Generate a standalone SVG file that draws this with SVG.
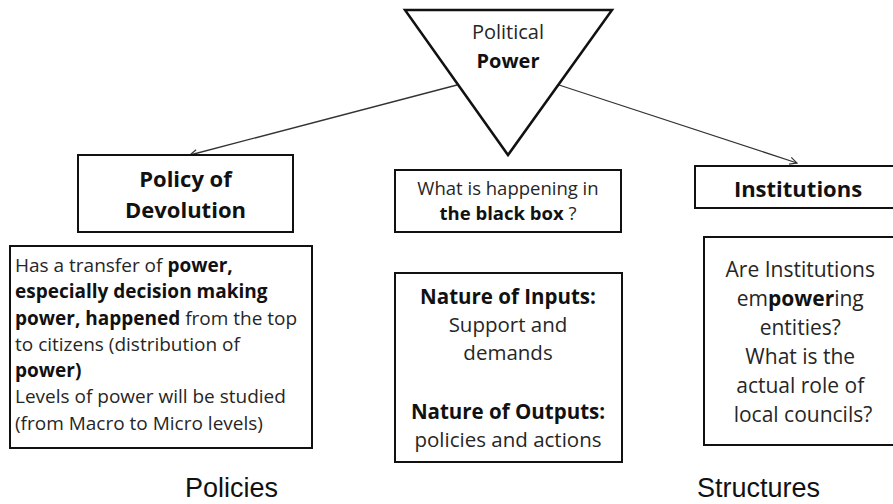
<svg xmlns="http://www.w3.org/2000/svg" width="893" height="504" viewBox="0 0 893 504">
  <style>
    .box { fill: #ffffff; stroke: #111111; stroke-width: 2; }
    .tri { fill: #ffffff; stroke: #111111; stroke-width: 2.5; stroke-linejoin: miter; }
    .t { font-family: "Open Sans", "Liberation Sans", sans-serif; fill: #262626; }
    .b { font-weight: bold; fill: #111111; }
    .c { text-anchor: middle; }
    .lbl { font-family: "Liberation Sans", Arial, sans-serif; font-size: 27px; fill: #111111; }
    .conn { stroke: #333333; stroke-width: 1.3; fill: none; }
  </style>
  <defs>
    <marker id="arrow" viewBox="0 0 10 10" refX="9" refY="5" markerWidth="9" markerHeight="9" markerUnits="userSpaceOnUse" orient="auto">
      <path d="M1,1 L9,5 L1,9" fill="none" stroke="#333333" stroke-width="1.3"/>
    </marker>
  </defs>

  <rect width="893" height="504" fill="#ffffff"/>

  <!-- connectors -->
  <g id="connectors">
    <line class="conn" x1="457" y1="85" x2="190" y2="155" marker-end="url(#arrow)"/>
    <line class="conn" x1="559" y1="85" x2="797" y2="163" marker-end="url(#arrow)"/>
  </g>

  <g id="political-power">
    <polygon class="tri" points="405,10 612,10 508,155"/>
    <text class="t c" x="508" y="39" font-size="20">Political</text>
    <text class="t b c" x="508" y="68" font-size="20">Power</text>
  </g>

  <g id="policy-of-devolution">
    <rect class="box" x="78" y="155" width="215" height="77"/>
    <text class="t b c" x="185.5" y="187" font-size="22">Policy of</text>
    <text class="t b c" x="185.5" y="218" font-size="22">Devolution</text>
  </g>

  <g id="devolution-detail">
    <rect class="box" x="10" y="246" width="302" height="202"/>
    <text class="t" x="15" font-size="19">
      <tspan x="15" y="272">Has a transfer of <tspan class="b">power,</tspan></tspan>
      <tspan x="15" y="298" class="b">especially decision making</tspan>
      <tspan x="15" y="325"><tspan class="b">power, happened</tspan> from the top</tspan>
      <tspan x="15" y="351">to citizens (distribution of</tspan>
      <tspan x="15" y="377" class="b">power)</tspan>
      <tspan x="15" y="403">Levels of power will be studied</tspan>
      <tspan x="15" y="430">(from Macro to Micro levels)</tspan>
    </text>
  </g>

  <g id="black-box">
    <rect class="box" x="395" y="170" width="226" height="62"/>
    <text class="t c" x="508" y="195" font-size="18.5">What is happening in</text>
    <text class="t c" x="508" y="220" font-size="18.5"><tspan class="b">the black box</tspan> ?</text>
  </g>

  <g id="inputs-outputs">
    <rect class="box" x="395" y="273" width="227" height="189"/>
    <text class="t b c" x="508" y="304" font-size="20.5">Nature of Inputs:</text>
    <text class="t c" x="508" y="332" font-size="20.5">Support and</text>
    <text class="t c" x="508" y="360" font-size="20.5">demands</text>
    <text class="t b c" x="508" y="419" font-size="20.5">Nature of Outputs:</text>
    <text class="t c" x="508" y="447" font-size="20.5">policies and actions</text>
  </g>

  <g id="institutions">
    <rect class="box" x="695" y="166" width="210" height="42"/>
    <text class="t b c" x="798" y="197" font-size="22">Institutions</text>
  </g>

  <g id="institutions-detail">
    <rect class="box" x="704" y="237" width="200" height="208"/>
    <text class="t c" x="803" font-size="21">
      <tspan x="803" y="277">Are Institutions</tspan>
      <tspan x="803" y="306">em<tspan class="b">power</tspan>ing</tspan>
      <tspan x="803" y="335">entities?</tspan>
      <tspan x="803" y="364">What is the</tspan>
      <tspan x="803" y="393">actual role of</tspan>
      <tspan x="803" y="422">local councils?</tspan>
    </text>
  </g>

  <g id="labels">
    <text class="lbl" x="185" y="497">Policies</text>
    <text class="lbl" x="697" y="497">Structures</text>
  </g>
</svg>
